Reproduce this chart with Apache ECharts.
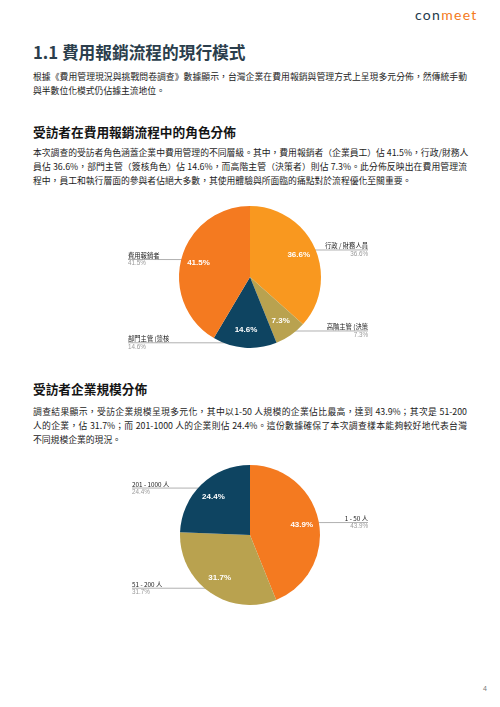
<!DOCTYPE html>
<html>
<head>
<meta charset="utf-8">
<script src="https://cdn.jsdelivr.net/npm/echarts@6/dist/echarts.min.js"></script>
<style>
  html, body { margin: 0; padding: 0; background: #fff; }
  body { width: 500px; height: 707px; position: relative; overflow: hidden;
         font-family: "Noto Sans CJK TC", "Noto Sans", sans-serif; }
  .logo { position: absolute; left: 415px; top: 5px; font-family: Lato, "Open Sans", sans-serif;
          font-size: 14px; font-weight: 400; letter-spacing: 1.3px; line-height: 20px; }
  .logo .a { color: #1e3a4c; }
  .logo .b { color: #f47a20; }
  .title { position: absolute; left: 33px; top: 41px; font-size: 16.7px; font-weight: 700;
           color: #2b3e4c; line-height: 22px; white-space: nowrap; }
  .h2 { position: absolute; left: 33px; font-size: 12.7px; font-weight: 700; color: #141414;
        line-height: 18px; white-space: nowrap; }
  .para { position: absolute; left: 33px; width: 434px; font-size: 8.8px; color: #1c1c1c; line-height: 14px; }
  .para div { text-align: justify; text-align-last: justify; white-space: nowrap; }
  .para div.last { text-align-last: left; }
  .chart { position: absolute; }
  .page { position: absolute; left: 483px; top: 685px; font-size: 7px; color: #777; font-family: "Liberation Sans", sans-serif; }
</style>
</head>
<body>
<div class="logo"><span class="a">con</span><span class="b">meet</span></div>
<div class="title">1.1 費用報銷流程的現行模式</div>
<div class="para" style="top:70px">
  <div>根據《費用管理現況與挑戰問卷調查》數據顯示，台灣企業在費用報銷與管理方式上呈現多元分佈，然傳統手動</div>
  <div class="last">與半數位化模式仍佔據主流地位。</div>
</div>
<div class="h2" style="top:123px">受訪者在費用報銷流程中的角色分佈</div>
<div class="para" style="top:146px">
  <div>本次調查的受訪者角色涵蓋企業中費用管理的不同層級。其中，費用報銷者（企業員工）佔 41.5%，行政/財務人</div>
  <div>員佔 36.6%，部門主管（簽核角色）佔 14.6%，而高階主管（決策者）則佔 7.3%。此分佈反映出在費用管理流</div>
  <div class="last">程中，員工和執行層面的參與者佔絕大多數，其使用體驗與所面臨的痛點對於流程優化至關重要。</div>
</div>
<div id="pie1" class="chart" style="left:-2px;top:195px;width:500px;height:165px"></div>
<div class="h2" style="top:380px">受訪者企業規模分佈</div>
<div class="para" style="top:405px">
  <div>調查結果顯示，受訪企業規模呈現多元化，其中以1-50 人規模的企業佔比最高，達到 43.9%；其次是 51-200</div>
  <div>人的企業，佔 31.7%；而 201-1000 人的企業則佔 24.4%。這份數據確保了本次調查樣本能夠較好地代表台灣</div>
  <div class="last">不同規模企業的現況。</div>
</div>
<div id="pie2" class="chart" style="left:0px;top:455px;width:500px;height:160px"></div>
<div class="page">4</div>

<script>
// 角色分佈
const roleNames = ['行政 / 財務人員', '高階主管 (決策', '部門主管 (簽核', '費用報銷者']
const roleValues = [36.6, 7.3, 14.6, 41.5]
const roleColors = ['#f9981f', '#b9a24f', '#0e4461', '#f47a20']

// 企業規模
const sizeNames = ['1 - 50 人', '51 - 200 人', '201 - 1000 人']
const sizeValues = [43.9, 31.7, 24.4]
const sizeColors = ['#f47a20', '#b9a24f', '#0e4461']

const pct = v => v.toFixed(1) + '%'

function buildData (names, values) {
  return names.map((n, i) => ({ name: n, value: values[i] }))
}

function pieOption (names, values, colors, center, r, edge) {
  const data = buildData(names, values)
  const base = {
    type: 'pie',
    center: center,
    startAngle: 90,
    clockwise: true,
    silent: true,
    avoidLabelOverlap: false,
    data: data
  }
  return {
    animation: false,
    color: colors,
    series: [
      Object.assign({}, base, {
        radius: r,
        label: { show: false },
        labelLine: { show: false },
        itemStyle: { borderWidth: 0 }
      }),
      Object.assign({}, base, {
        radius: [r * 0.42, r],
        itemStyle: { color: 'transparent' },
        label: {
          show: true,
          position: 'inside',
          color: '#fff',
          fontWeight: 'bold',
          fontSize: 8,
          fontFamily: 'Liberation Sans, Arial, sans-serif',
          formatter: p => pct(p.value)
        },
        labelLine: { show: false }
      }),
      Object.assign({}, base, {
        radius: r * 0.93,
        itemStyle: { color: 'transparent' },
        label: {
          show: true,
          position: 'outside',
          alignTo: 'edge',
          edgeDistance: edge,
          formatter: p => '{n|' + p.name + '}\n{v|' + pct(p.value) + '}',
          rich: {
            n: { fontSize: 6.3, lineHeight: 8, color: '#222', fontFamily: 'Noto Sans CJK TC, Liberation Sans, sans-serif' },
            v: { fontSize: 6.3, lineHeight: 8, color: '#9a9a9a', fontFamily: 'Liberation Sans, Arial, sans-serif' }
          }
        },
        labelLine: {
          show: true,
          length: 0,
          length2: 10,
          smooth: false,
          lineStyle: { color: '#b0b0b0', width: 1 }
        },
        labelLayout: function (params) {
          const pts = params.labelLinePoints
          if (!pts) return {}
          const rc = params.labelRect
          const left = rc.x + rc.width / 2 < pts[0][0]
          const y = rc.y + rc.height / 2
          return {
            labelLinePoints: [pts[0], [left ? rc.x : rc.x + rc.width, y]]
          }
        }
      })
    ]
  }
}

const chart1 = echarts.init(document.getElementById('pie1'))
chart1.setOption(pieOption(roleNames, roleValues, roleColors, [252, 82], 71, 130))

const chart2 = echarts.init(document.getElementById('pie2'))
chart2.setOption(pieOption(sizeNames, sizeValues, sizeColors, [250, 80], 70, 132))
</script>
</body>
</html>
